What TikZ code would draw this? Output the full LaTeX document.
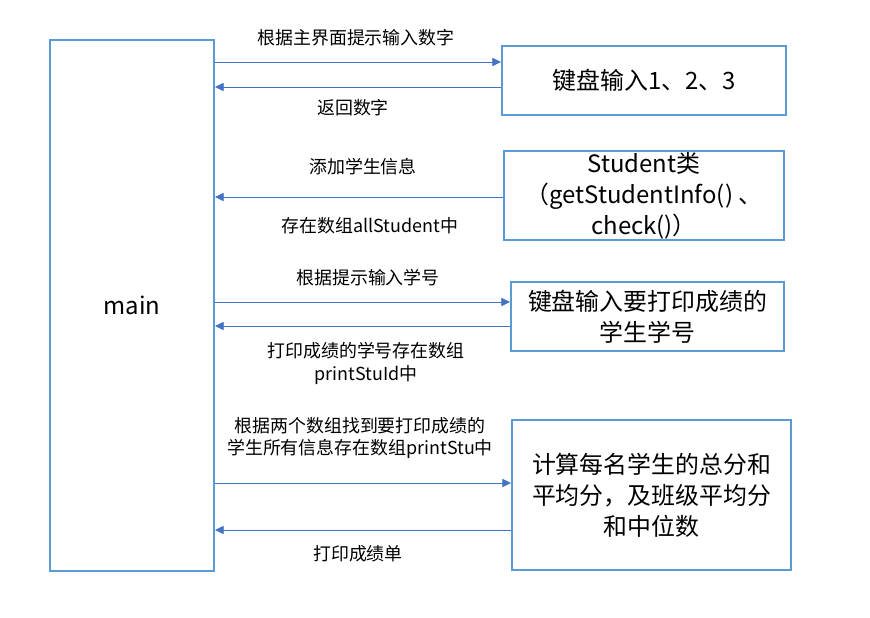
\documentclass[tikz,border=0pt]{standalone}
\usepackage{fontspec}
\setmainfont{Noto Sans CJK SC}
\usetikzlibrary{calc}
\usetikzlibrary{arrows.meta}

\definecolor{boxblue}{HTML}{5B9BD5}
\definecolor{arrblue}{HTML}{4472C4}

\begin{document}
\begin{tikzpicture} [x=0.03cm,y=-0.03cm,
  box/.style={draw=boxblue,line width=1.6pt,align=center,inner sep=0pt,
    font=\fontsize{20.4}{26.4}\selectfont},
  lbl/.style={align=center,inner sep=0pt,font=\fontsize{15.3}{19.6}\selectfont},
  arr/.style={arrblue,line width=0.8pt,-{Triangle[length=7.5pt,width=7pt]}}]

\useasboundingbox (0,0) rectangle (870,617);

\node[box,minimum width=4.92cm,minimum height=15.93cm] (main) at (132,305.5) {main};
\node[box,minimum width=8.52cm,minimum height=2.07cm] (kb) at (644,80.5) {键盘输入1、2、3};
\node[box,minimum width=8.4cm,minimum height=2.67cm] (stu) at (644,195.5) {Student类\\（getStudentInfo() 、\\check()）};
\node[box,minimum width=8.19cm,minimum height=2.07cm] (num) at (647.5,316.5) {键盘输入要打印成绩的\\学生学号};
\node[box,minimum width=8.37cm,minimum height=4.5cm] (calc) at (651.5,495) {计算每名学生的总分和\\平均分，及班级平均分\\和中位数};

\coordinate (y1) at (0,62);
\coordinate (y2) at (0,87);
\coordinate (y3) at (0,197);
\coordinate (y4) at (0,302);
\coordinate (y5) at (0,326);
\coordinate (y6) at (0,483);
\coordinate (y7) at (0,530);

\draw[arr] (main.east |- y1) -- (kb.west |- y1);
\draw[arr] (kb.west |- y2) -- (main.east |- y2);
\draw[arr] (stu.west |- y3) -- (main.east |- y3);
\draw[arr] (main.east |- y4) -- (num.west |- y4);
\draw[arr] (num.west |- y5) -- (main.east |- y5);
\draw[arr] (main.east |- y6) -- (calc.west |- y6);
\draw[arr] (calc.west |- y7) -- (main.east |- y7);

\node[lbl] (t1) at (356,38) {根据主界面提示输入数字};
\node[lbl] (t2) at (353,108) {返回数字};
\node[lbl] (t3) at (363,167) {添加学生信息};
\node[lbl] (t4) at (370,226) {存在数组allStudent中};
\node[lbl] (t5) at (368,278) {根据提示输入学号};
\node[lbl] (t6) at (366,363) {打印成绩的学号存在数组\\printStuId中};
\node[lbl] (t7) at (360,438) {根据两个数组找到要打印成绩的\\学生所有信息存在数组printStu中};
\node[lbl] (t8) at (358,554) {打印成绩单};

\end{tikzpicture}
\end{document}
